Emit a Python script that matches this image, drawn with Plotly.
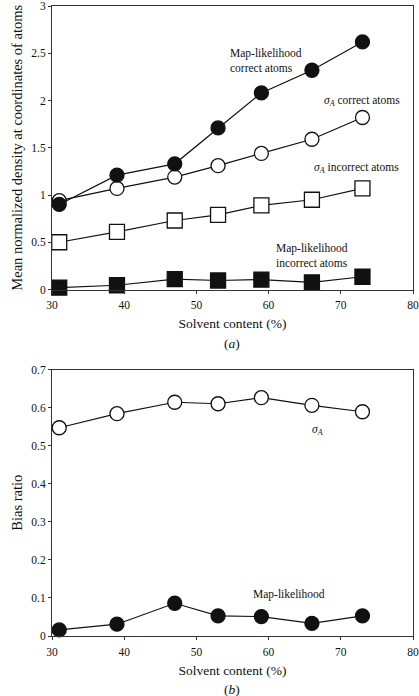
import plotly.graph_objects as go
from plotly.subplots import make_subplots

solvent = [31, 39, 47, 53, 59, 66, 73]
ml_correct = [0.90, 1.21, 1.33, 1.71, 2.08, 2.32, 2.62]
sa_correct = [0.94, 1.07, 1.19, 1.31, 1.44, 1.59, 1.82]
sa_incorrect = [0.50, 0.61, 0.73, 0.79, 0.89, 0.95, 1.07]
ml_incorrect = [0.02, 0.045, 0.11, 0.095, 0.105, 0.075, 0.135]

bias_sa = [0.547, 0.584, 0.614, 0.610, 0.626, 0.606, 0.589]
bias_ml = [0.016, 0.031, 0.086, 0.053, 0.051, 0.033, 0.053]

x_ticks = [30, 40, 50, 60, 70, 80]
ya_ticks = [0, 0.5, 1, 1.5, 2, 2.5, 3]
ya_labels = ["0", "0.5", "1", "1.5", "2", "2.5", "3"]
yb_ticks = [0, 0.1, 0.2, 0.3, 0.4, 0.5, 0.6, 0.7]
yb_labels = ["0", "0.1", "0.2", "0.3", "0.4", "0.5", "0.6", "0.7"]

FONT = "Liberation Serif, Times New Roman, DejaVu Serif, serif"
BLACK = "#111111"

fig = make_subplots(rows=2, cols=1)

def add(x, y, symbol, filled, row, size=14):
    fig.add_trace(go.Scatter(
        x=x, y=y, mode="lines+markers",
        line=dict(color=BLACK, width=1.2),
        marker=dict(symbol=symbol, size=size,
                    color=BLACK if filled else "white",
                    line=dict(color=BLACK, width=1.3)),
        showlegend=False, hoverinfo="skip", cliponaxis=False), row=row, col=1)

add(solvent, sa_incorrect, "square", False, 1, 15)
add(solvent, ml_incorrect, "square", True, 1, 15)
add(solvent, sa_correct, "circle", False, 1)
add(solvent, ml_correct, "circle", True, 1)
add(solvent, bias_sa, "circle", False, 2)
add(solvent, bias_ml, "circle", True, 2)

H = 696
top, bot = 6, 60
ph = H - top - bot
dom_a = [(636 - 289.5) / ph, 1.0]
dom_b = [0.0, (636 - 369.5) / ph]

axis_common = dict(showline=True, mirror=True, linecolor="#333333", linewidth=1,
                   ticks="outside", ticklen=3, tickcolor="#333333",
                   showgrid=False, zeroline=False, automargin=False,
                   tickfont=dict(family=FONT, size=11.5, color=BLACK))

fig.update_xaxes(**axis_common, range=[30, 80], tickvals=x_ticks, ticklabelstandoff=2,
                 title=dict(text="Solvent content (%)", standoff=8,
                            font=dict(family=FONT, size=13.5, color=BLACK)))
fig.update_yaxes(**axis_common)
fig.update_yaxes(range=[0, 3], tickvals=ya_ticks, ticktext=ya_labels, domain=dom_a,
                 title=dict(text="Mean normalized density at coordinates of atoms", standoff=5,
                            font=dict(family=FONT, size=14.5, color=BLACK)), row=1, col=1)
fig.update_yaxes(range=[0, 0.7], tickvals=yb_ticks, ticktext=yb_labels, domain=dom_b,
                 title=dict(text="Bias ratio", standoff=5,
                            font=dict(family=FONT, size=14.5, color=BLACK)), row=2, col=1)

ann_font = dict(family=FONT, size=11.5, color=BLACK)
annots = [
    dict(x=59.6, y=2.42, text="Map-likelihood<br>correct atoms", xref="x", yref="y", align="left"),
    dict(x=72.9, y=2.0, text="<i>σ<sub>A</sub></i> correct atoms", xref="x", yref="y"),
    dict(x=72.2, y=1.29, text="<i>σ<sub>A</sub></i> incorrect atoms", xref="x", yref="y"),
    dict(x=66.0, y=0.36, text="Map-likelihood<br>incorrect atoms", xref="x", yref="y", align="left"),
    dict(x=66.8, y=0.542, text="<i>σ<sub>A</sub></i>", xref="x2", yref="y2"),
    dict(x=62.8, y=0.108, text="Map-likelihood", xref="x2", yref="y2"),
]
for a in annots:
    fig.add_annotation(**a, showarrow=False, font=ann_font)

# panel labels
ya_a = (636 - 343) / ph
ya_b = (636 - 689) / ph
for yv, t in [(ya_a, "(<i>a</i>)"), (ya_b, "(<i>b</i>)")]:
    fig.add_annotation(x=(232 - 52) / (413 - 52), y=yv, xref="paper", yref="paper",
                       text=t, showarrow=False, font=dict(family=FONT, size=13.5, color=BLACK),
                       yanchor="middle")

fig.update_layout(width=419, height=H, margin=dict(l=52, r=6, t=top, b=bot, autoexpand=False),
                  plot_bgcolor="white", paper_bgcolor="white")

fig.write_html("out.html", config={"displayModeBar": False},
               post_script="document.body.style.margin='0';")
